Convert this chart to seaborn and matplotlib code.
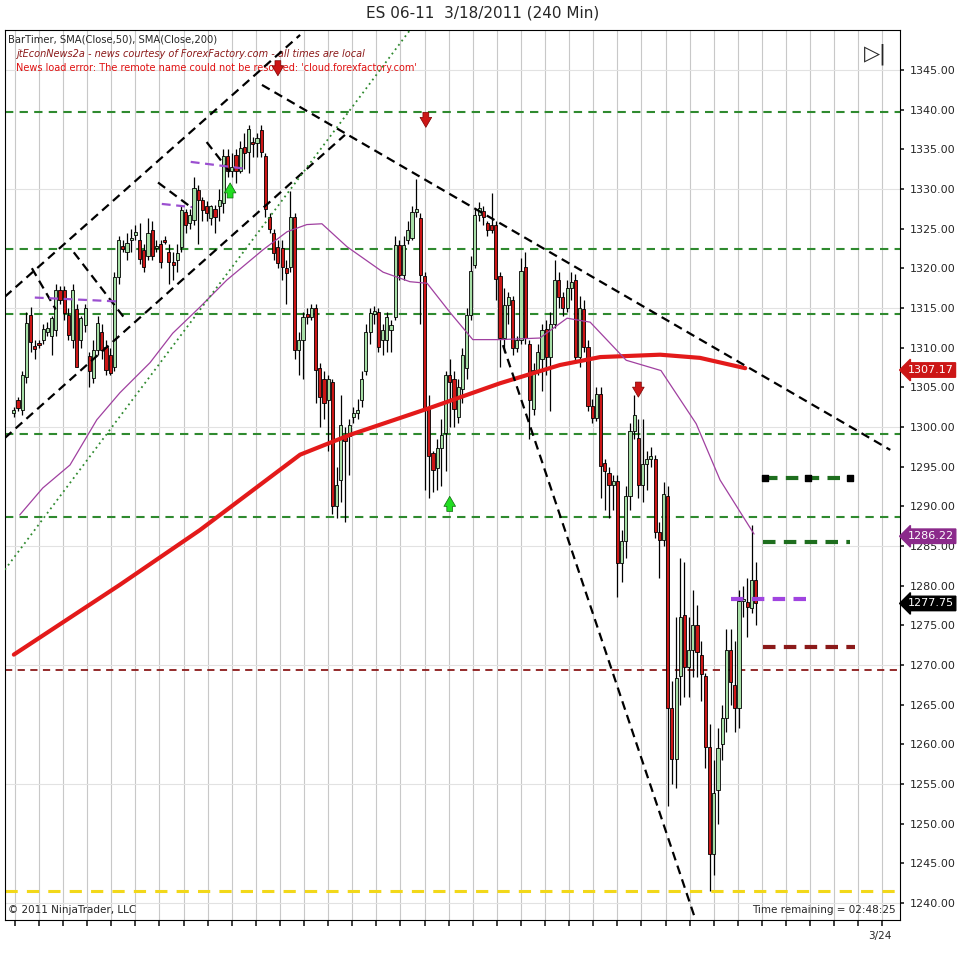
import numpy as np
import pandas as pd
import matplotlib
matplotlib.use("Agg")
import matplotlib.pyplot as plt
import seaborn as sns

# 240-min ES 06-11 bars
opens = [1301.7, 1303.4, 1302.1, 1306.3, 1314.1, 1310.2, 1310.6, 1311.0, 1312.0, 1311.4,
         1312.2, 1317.3, 1317.3, 1314.1, 1311.0, 1314.8, 1311.0, 1312.8, 1308.9, 1306.1,
         1309.7, 1312.0, 1310.1, 1309.0, 1307.6, 1318.9, 1322.8, 1322.1, 1323.5, 1324.2,
         1323.6, 1322.3, 1321.5, 1324.8, 1322.5, 1323.1, 1323.6, 1322.1, 1320.8, 1321.0,
         1322.7, 1327.1, 1325.7, 1326.1, 1329.9, 1328.6, 1327.8, 1326.3, 1327.4, 1327.8,
         1328.2, 1334.1, 1332.2, 1334.3, 1332.2, 1335.3, 1334.7, 1335.8, 1335.8, 1337.4,
         1334.1, 1326.5, 1324.4, 1322.7, 1322.5, 1320.0, 1320.2, 1326.5, 1309.7, 1311.0,
         1314.2, 1313.9, 1315.0, 1307.4, 1306.0, 1303.4, 1305.7, 1290.0, 1293.3, 1299.0,
         1298.8, 1301.3, 1301.8, 1303.4, 1307.0, 1312.0, 1314.2, 1314.5, 1311.0, 1311.0,
         1312.2, 1313.9, 1322.9, 1319.2, 1323.6, 1323.8, 1327.1, 1326.3, 1319.0, 1302.3,
         1296.7, 1294.8, 1297.4, 1299.2, 1306.6, 1306.0, 1301.3, 1304.8, 1307.4, 1314.1,
         1320.4, 1326.7, 1327.2, 1325.7, 1325.5, 1325.5, 1319.0, 1311.2, 1315.4, 1316.0,
         1309.9, 1311.0, 1320.2, 1310.5, 1302.2, 1307.2, 1308.5, 1312.4, 1308.8, 1313.0,
         1318.5, 1316.4, 1315.0, 1317.5, 1318.5, 1308.8, 1314.8, 1310.1, 1302.6, 1301.1,
         1304.2, 1295.5, 1294.2, 1292.7, 1293.2, 1282.9, 1285.6, 1291.3, 1299.5, 1298.6,
         1292.7, 1295.3, 1296.0, 1296.0, 1286.8, 1285.8, 1291.3, 1264.6, 1258.2, 1268.6,
         1276.3, 1269.7, 1271.9, 1275.0, 1271.2, 1268.6, 1259.7, 1246.2, 1254.2, 1260.0,
         1263.3, 1271.9, 1267.5, 1264.6, 1278.1, 1277.9, 1277.2, 1280.7]
highs = [1302.5, 1303.8, 1307.0, 1314.5, 1315.1, 1311.0, 1311.0, 1313.0, 1313.2, 1314.0,
         1318.0, 1317.8, 1317.8, 1315.0, 1318.0, 1315.5, 1314.0, 1315.5, 1309.5, 1311.0,
         1314.0, 1313.0, 1311.0, 1310.0, 1319.5, 1324.0, 1323.5, 1324.5, 1325.0, 1325.5,
         1325.7, 1323.0, 1326.3, 1326.0, 1323.5, 1323.5, 1324.0, 1323.0, 1322.0, 1323.0,
         1328.0, 1327.5, 1327.5, 1331.5, 1330.5, 1329.0, 1328.5, 1328.0, 1328.0, 1330.0,
         1335.0, 1335.0, 1334.5, 1335.0, 1336.0, 1337.0, 1338.0, 1336.5, 1337.0, 1338.0,
         1334.5, 1327.0, 1325.0, 1323.5, 1323.5, 1321.0, 1329.7, 1327.0, 1312.0, 1314.5,
         1315.0, 1315.5, 1315.5, 1308.0, 1307.0, 1306.5, 1306.0, 1295.0, 1304.0, 1300.0,
         1301.0, 1302.5, 1303.5, 1307.0, 1313.0, 1315.0, 1315.2, 1315.0, 1313.0, 1314.5,
         1313.5, 1324.0, 1323.5, 1324.0, 1326.0, 1327.8, 1331.3, 1327.0, 1319.5, 1304.0,
         1297.0, 1298.5, 1301.0, 1307.0, 1308.6, 1307.0, 1306.0, 1310.0, 1315.0, 1321.5,
         1327.5, 1328.3, 1327.8, 1326.0, 1329.5, 1326.0, 1319.5, 1317.5, 1317.0, 1316.5,
         1311.5, 1321.3, 1322.0, 1311.0, 1308.0, 1310.5, 1313.0, 1313.5, 1314.5, 1321.0,
         1319.5, 1317.0, 1318.5, 1319.5, 1319.3, 1316.5, 1316.0, 1311.0, 1303.5, 1305.0,
         1305.0, 1296.0, 1295.0, 1294.0, 1294.0, 1287.0, 1292.5, 1300.5, 1304.0, 1301.0,
         1301.0, 1297.0, 1297.5, 1296.5, 1288.0, 1293.0, 1292.5, 1268.0, 1276.0, 1283.5,
         1283.0, 1276.0, 1279.5, 1277.5, 1273.0, 1269.0, 1262.5, 1258.0, 1262.0, 1265.0,
         1274.5, 1274.5, 1273.0, 1279.5, 1280.0, 1281.0, 1287.6, 1283.0]
lows = [1301.3, 1302.0, 1301.5, 1305.5, 1309.5, 1308.5, 1310.0, 1310.5, 1311.5, 1309.0,
        1311.5, 1315.5, 1313.5, 1311.0, 1310.0, 1307.5, 1310.0, 1312.0, 1305.0, 1305.5,
        1309.0, 1308.5, 1306.5, 1306.5, 1307.0, 1318.0, 1322.0, 1321.0, 1322.0, 1323.5,
        1320.5, 1319.5, 1321.0, 1321.0, 1322.0, 1320.0, 1323.0, 1318.0, 1318.5, 1319.5,
        1322.0, 1324.5, 1325.0, 1325.5, 1323.0, 1326.0, 1326.0, 1325.5, 1324.5, 1326.0,
        1327.0, 1331.5, 1331.5, 1330.8, 1332.0, 1332.5, 1332.0, 1334.0, 1334.0, 1334.0,
        1326.5, 1324.5, 1321.0, 1320.0, 1318.5, 1315.5, 1319.5, 1308.5, 1306.5, 1306.0,
        1313.0, 1313.5, 1303.0, 1300.0, 1301.0, 1297.0, 1289.0, 1288.5, 1290.5, 1288.0,
        1294.0, 1300.5, 1301.0, 1302.5, 1306.5, 1310.5, 1313.0, 1309.5, 1309.0, 1309.5,
        1309.5, 1313.5, 1318.5, 1318.5, 1323.0, 1323.5, 1326.5, 1313.0, 1292.0, 1291.0,
        1291.8, 1292.0, 1292.5, 1294.5, 1300.0, 1300.0, 1300.5, 1303.0, 1306.0, 1313.5,
        1320.0, 1326.0, 1325.5, 1324.0, 1324.5, 1316.0, 1307.5, 1309.5, 1313.0, 1309.0,
        1309.5, 1310.5, 1310.5, 1298.5, 1301.5, 1306.5, 1304.5, 1306.5, 1302.0, 1312.5,
        1315.0, 1314.0, 1314.5, 1316.0, 1308.0, 1307.5, 1309.5, 1302.0, 1300.5, 1300.8,
        1291.0, 1289.5, 1288.5, 1289.5, 1278.5, 1280.5, 1283.5, 1289.5, 1298.5, 1291.0,
        1290.5, 1292.0, 1295.0, 1286.0, 1281.0, 1285.0, 1252.2, 1255.0, 1254.5, 1265.0,
        1266.0, 1266.0, 1268.5, 1268.5, 1265.5, 1257.0, 1241.5, 1243.5, 1250.0, 1258.0,
        1261.5, 1265.0, 1261.5, 1262.0, 1276.0, 1273.5, 1276.5, 1275.0]
closes = [1302.1, 1302.4, 1306.5, 1313.1, 1310.7, 1309.8, 1310.3, 1312.4, 1312.5, 1313.7,
          1317.3, 1316.0, 1314.3, 1311.6, 1317.3, 1307.6, 1313.7, 1315.0, 1307.0, 1309.7,
          1313.1, 1309.7, 1307.2, 1306.8, 1318.9, 1323.6, 1322.4, 1323.2, 1323.7, 1324.6,
          1321.1, 1320.2, 1324.4, 1321.5, 1322.8, 1320.8, 1323.3, 1320.8, 1320.4, 1321.9,
          1327.3, 1325.5, 1326.7, 1330.1, 1328.6, 1327.3, 1326.9, 1327.8, 1326.5, 1328.6,
          1334.1, 1332.2, 1332.8, 1332.2, 1335.1, 1334.5, 1337.6, 1335.6, 1336.4, 1334.7,
          1327.4, 1325.0, 1321.9, 1320.6, 1320.2, 1319.4, 1326.5, 1309.7, 1311.0, 1313.9,
          1313.8, 1315.0, 1307.2, 1303.8, 1303.0, 1306.0, 1290.0, 1292.7, 1300.3, 1298.2,
          1300.3, 1301.7, 1302.1, 1306.0, 1312.0, 1314.3, 1314.6, 1310.1, 1312.2, 1313.9,
          1312.8, 1322.9, 1319.2, 1322.9, 1324.8, 1327.1, 1327.5, 1319.2, 1302.1, 1296.3,
          1294.6, 1297.3, 1299.0, 1306.6, 1305.7, 1302.3, 1305.0, 1309.0, 1314.1, 1319.6,
          1326.7, 1327.6, 1326.5, 1324.8, 1324.8, 1318.7, 1311.2, 1315.4, 1316.4, 1309.9,
          1311.0, 1319.6, 1311.2, 1303.4, 1307.2, 1309.5, 1312.2, 1308.8, 1313.0, 1318.5,
          1316.4, 1315.0, 1317.5, 1318.2, 1308.8, 1315.0, 1310.1, 1302.6, 1301.1, 1304.2,
          1295.1, 1294.4, 1292.7, 1293.2, 1282.9, 1285.6, 1291.3, 1299.5, 1301.5, 1292.7,
          1295.3, 1296.0, 1296.3, 1286.8, 1285.8, 1291.6, 1264.6, 1258.2, 1268.3, 1276.1,
          1269.7, 1271.9, 1275.0, 1271.6, 1268.8, 1259.7, 1246.2, 1253.8, 1259.5, 1263.3,
          1271.9, 1267.9, 1264.6, 1278.1, 1278.3, 1277.3, 1280.7, 1277.75]

# moving averages (sampled off the chart: bar index, price)
sma200_bar = [0, 25.3, 44.4, 68.3, 80.2, 99.3, 116, 130.3, 139.9, 154.2, 163.7, 174.5]
sma200_val = [1271.3, 1280.1, 1287.0, 1296.5, 1299.0, 1302.4, 1305.5, 1307.8, 1308.8, 1309.1, 1308.7, 1307.4]
sma50_bar = [1.4, 6.9, 13.4, 19.8, 25.3, 32.5, 37.9, 44.4, 50.8, 59.4, 65.2, 69.9, 73.5, 79.5,
             88.1, 94.5, 98.6, 104.1, 109.5, 116, 125.5, 132, 137.5, 146.1, 154.4, 162.8, 168.5, 176.6]
sma50_val = [1288.9, 1292.3, 1295.2, 1300.9, 1304.3, 1308.1, 1311.8, 1315.1, 1318.5, 1322.3, 1324.6,
             1325.5, 1325.6, 1322.7, 1319.5, 1318.3, 1318.1, 1314.4, 1311.0, 1311.0, 1311.2, 1313.7,
             1313.2, 1308.4, 1307.1, 1300.4, 1293.3, 1286.5]

# horizontal levels
green_levels = [1339.7, 1322.4, 1314.2, 1299.1, 1288.7]
red_level = 1269.4
yellow_level = 1241.5

sns.set_theme(style="white")
plt.rcParams['font.family'] = ['DejaVu Sans']

fig = plt.figure(figsize=(9.66, 9.63), dpi=100)
ax = fig.add_axes([0.005, 0.0447, 0.927, 0.9243])

df = pd.DataFrame({"o": opens, "h": highs, "l": lows, "c": closes})
df["i"] = np.arange(len(df))
up = df["c"] >= df["o"]

ax.set_xlim(-2.15, 211.5)
ax.set_ylim(1237.86, 1350.04)

# grid
for gx in np.arange(0.25, 212, 5.75):
    ax.axvline(gx, color="#c8c8c8", lw=0.8, zorder=0)
for gy in range(1240, 1350, 15):
    ax.axhline(gy, color="#e2e2e2", lw=0.8, zorder=0)

for lv in green_levels:
    ax.axhline(lv, color="#2f8a2f", lw=1.5, ls=(0, (4, 3)), zorder=1)
ax.axhline(red_level, color="#8b1a1a", lw=1.3, ls=(0, (4, 3)), zorder=1)
ax.axhline(yellow_level, color="#f2d81a", lw=2.2, ls=(0, (4, 3)), zorder=1)

# candles
ax.vlines(df["i"], df["l"], df["h"], color="black", lw=0.9, zorder=3)
body = (df["c"] - df["o"]).abs().clip(lower=0.25)
bottom = df[["o", "c"]].min(axis=1)
ax.bar(df["i"][up], body[up], bottom=bottom[up], width=0.75, color="#a6dea6",
       edgecolor="black", lw=0.6, zorder=4)
ax.bar(df["i"][~up], body[~up], bottom=bottom[~up], width=0.75, color="#cc1616",
       edgecolor="black", lw=0.6, zorder=4)

# SMAs
sns.lineplot(x=sma200_bar, y=sma200_val, color="#e31a1a", lw=3, ax=ax, zorder=5)
sns.lineplot(x=sma50_bar, y=sma50_val, color="#a040a0", lw=0.9, ax=ax, zorder=5)

# drawn trend lines
blk = dict(color="black", lw=1.6, ls=(0, (4, 2.5)), zorder=6)
ax.plot([-2.15, 68.3], [1316.4, 1349.4], **blk)
ax.plot([-2.15, 79.0], [1298.6, 1336.8], **blk)
ax.plot([59.2, 209.1], [1343.1, 1297.1], **blk)
ax.plot([116.7, 162.5], [1310.3, 1238.1], **blk)
ax.plot([4.3, 10.0], [1320.0, 1314.8], **blk)
ax.plot([14.3, 26.7], [1322.0, 1313.5], **blk)
ax.plot([34.4, 42.5], [1330.8, 1327.6], **blk)
ax.plot([46.0, 51.6], [1335.9, 1332.1], **blk)
ax.plot([-2.15, 94.5], [1282.0, 1350.0], color="#2f8a2f", lw=1.3, ls=(0, (1, 2)), zorder=6)
pur = dict(color="#9b4fd0", lw=1.6, ls=(0, (4, 2.5)), zorder=6)
ax.plot([5.0, 25.3], [1316.3, 1315.8], **pur)
ax.plot([35.3, 42.5], [1328.1, 1327.7], **pur)
ax.plot([42.2, 55.8], [1333.4, 1332.5], **pur)

# projected levels on the right
ax.plot([179.2, 199.6], [1293.5, 1293.5], color="#1e6e1e", lw=3, ls=(0, (3, 2)), zorder=6)
ax.scatter([179.2, 189.4, 199.6], [1293.5, 1293.5, 1293.5], marker="s", s=18, color="black", zorder=7)
ax.plot([178.7, 199.6], [1285.5, 1285.5], color="#1e6e1e", lw=3, ls=(0, (3, 2)), zorder=6)
ax.plot([171.0, 189.0], [1278.3, 1278.3], color="#a044e0", lw=3, ls=(0, (3, 2)), zorder=6)
ax.plot([178.7, 200.8], [1272.2, 1272.2], color="#8b1a1a", lw=3, ls=(0, (3, 2)), zorder=6)

# signal arrows
for xa, ya in [(63, 1346.5), (98.3, 1340.0), (149, 1306.0)]:
    ax.annotate("", xy=(xa, ya - 2.6), xytext=(xa, ya),
                arrowprops=dict(arrowstyle="simple,head_width=0.7,head_length=0.6,tail_width=0.35",
                                fc="#cc1616", ec="#7a0000", lw=0.5), zorder=8)
for xa, ya in [(51.6, 1328.5), (104, 1289.0)]:
    ax.annotate("", xy=(xa, ya + 2.6), xytext=(xa, ya),
                arrowprops=dict(arrowstyle="simple,head_width=0.7,head_length=0.6,tail_width=0.35",
                                fc="#22dd22", ec="#0a6a0a", lw=0.5), zorder=8)

# axes styling
for s in ax.spines.values():
    s.set_color("black")
    s.set_linewidth(0.8)
ax.yaxis.tick_right()
ax.set_yticks(range(1240, 1350, 5))
ax.set_yticklabels([f"{v}.00" for v in range(1240, 1350, 5)], fontsize=8)
ax.tick_params(axis="y", length=3, pad=4, direction="out", right=True)
ax.set_xticks(np.arange(0.25, 212, 5.75))
ax.set_xticklabels([])
ax.tick_params(axis="x", length=4, direction="out", bottom=True)
ax.text(206.5, 1236.5, "3/24", fontsize=7.5, ha="center", va="top")

# last value tags
for val, col in [(1307.17, "#cc1616"), (1286.22, "#8b2a8b"), (1277.75, "black")]:
    ax.text(213.2, val, f"{val:.2f}", fontsize=8, color="white", va="center", ha="left",
            bbox=dict(boxstyle="larrow,pad=0.2", fc=col, ec=col), clip_on=False, zorder=9)

fig.text(0.5, 0.987, "ES 06-11  3/18/2011 (240 Min)", ha="center", va="center", fontsize=11)
ax.text(0.004, 0.995, "BarTimer, SMA(Close,50), SMA(Close,200)", transform=ax.transAxes,
        fontsize=7.2, va="top")
ax.text(0.013, 0.978, "jtEconNews2a - news courtesy of ForexFactory.com - all times are local",
        transform=ax.transAxes, fontsize=7, color="#8b1a1a", style="italic", va="top")
ax.text(0.013, 0.963, "News load error: The remote name could not be resolved: 'cloud.forexfactory.com'",
        transform=ax.transAxes, fontsize=7, color="#e01010", va="top")
ax.text(0.004, 0.006, "\u00a9 2011 NinjaTrader, LLC", transform=ax.transAxes, fontsize=7.5, va="bottom")
ax.text(0.995, 0.006, "Time remaining = 02:48:25", transform=ax.transAxes, fontsize=7.5,
        va="bottom", ha="right")
ax.text(0.985, 0.985, "\u25b7|", transform=ax.transAxes, fontsize=15, ha="right", va="top")

fig.savefig("out.png", dpi=100, facecolor="white")
